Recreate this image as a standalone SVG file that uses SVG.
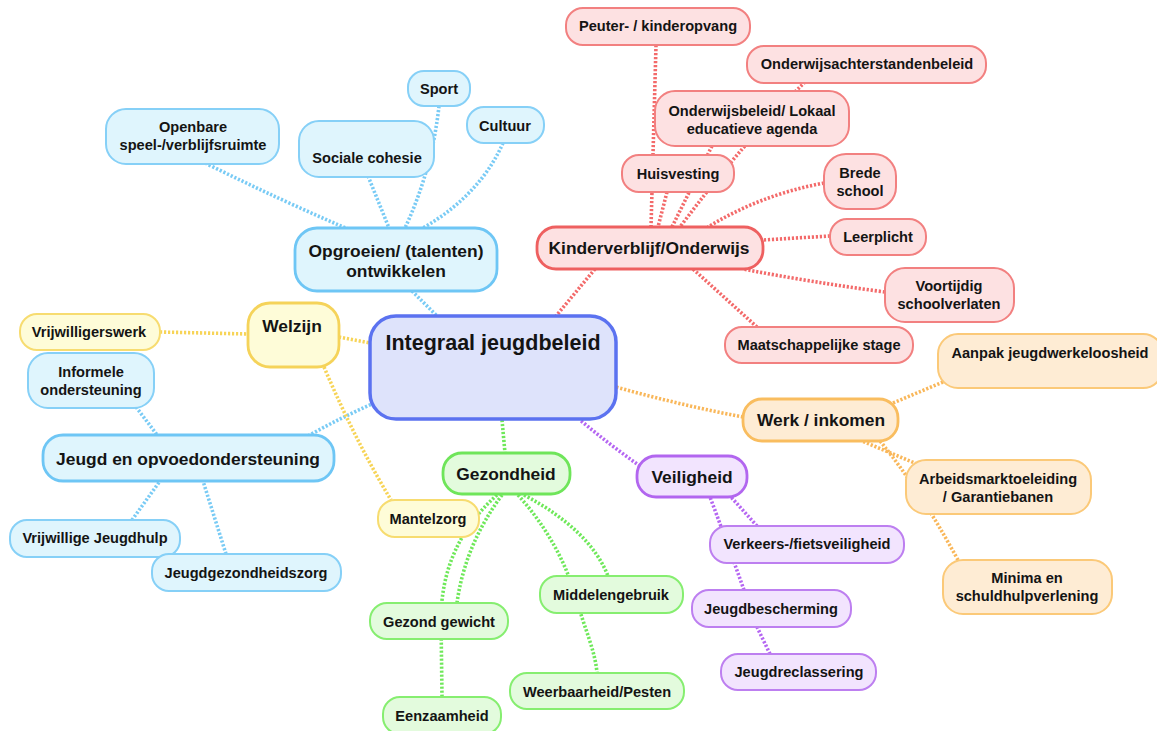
<svg xmlns="http://www.w3.org/2000/svg" width="1157" height="731" viewBox="0 0 1157 731">
<style>
text{font-family:"Liberation Sans",Arial,sans-serif;font-weight:bold;fill:#141414;text-anchor:middle}
.s{font-size:14.6px}
.m{font-size:17.4px}
.c{font-size:21.5px}
rect{stroke-width:2}
.lvl1{stroke-width:2.8}
.blue rect{fill:#dff5fd;stroke:#86d0f7}
.blue rect.lvl1{stroke:#6ec6f5}
.red rect{fill:#fde1e2;stroke:#f28080}
.red rect.lvl1{stroke:#ee6060}
.yellow rect{fill:#fefcd8;stroke:#f7dc70}
.yellow rect.lvl1{stroke:#f5d35a}
.orange rect{fill:#feecd4;stroke:#fbc978}
.orange rect.lvl1{stroke:#f9bd5f}
.purple rect{fill:#f2e4fe;stroke:#bd7ff0}
.purple rect.lvl1{stroke:#b266ef}
.green rect{fill:#e3fbdd;stroke:#86ee70}
.green rect.lvl1{stroke:#6fe55a}
#connectors path{fill:none;stroke-width:3.6;stroke-dasharray:2.2 1.8}
.cb{stroke:#79cbf5}.cr{stroke:#f36a6a}.cy{stroke:#f7d457}.co{stroke:#f9b75a}.cp{stroke:#b566f2}.cg{stroke:#6fe85a}
</style>
<rect width="1157" height="731" fill="#ffffff"/>
<g id="connectors">
<path class="cb" d="M412,291 L438,317"/>
<path class="cb" d="M205,163 Q280,200 348,229"/>
<path class="cb" d="M368,176 L389,228"/>
<path class="cb" d="M439,106 Q432,170 405,228"/>
<path class="cb" d="M503,143 Q480,195 423,228"/>
<path class="cb" d="M308,436 Q340,418 372,404"/>
<path class="cb" d="M136,407 L158,436"/>
<path class="cb" d="M132,520 L160,481"/>
<path class="cb" d="M226,554 L203,481"/>
<path class="cy" d="M339,337 L370,343"/>
<path class="cy" d="M160,332 L248,334"/>
<path class="cy" d="M324,367 Q355,440 391,500"/>
<path class="cr" d="M595,269 L556,316"/>
<path class="cr" d="M656,45 L651,227"/>
<path class="cr" d="M667,192 L658,227"/>
<path class="cr" d="M712,146 L672,227"/>
<path class="cr" d="M805,82 Q745,140 680,227"/>
<path class="cr" d="M824,183 Q760,195 708,227"/>
<path class="cr" d="M830,236 L763,240"/>
<path class="cr" d="M885,292 Q810,282 743,269"/>
<path class="cr" d="M757,327 L693,269"/>
<path class="co" d="M743,417 Q680,405 616,387"/>
<path class="co" d="M943,382 L893,403"/>
<path class="co" d="M917,464 L862,441"/>
<path class="co" d="M958,560 Q920,490 880,441"/>
<path class="cp" d="M640,466 Q610,445 580,420"/>
<path class="cp" d="M757,526 L731,497"/>
<path class="cp" d="M744,590 Q728,545 710,497"/>
<path class="cp" d="M770,654 L757,627"/>
<path class="cg" d="M502,420 L505,453"/>
<path class="cg" d="M497,495 Q441,545 441,620 L442,697"/>
<path class="cg" d="M502,495 Q465,545 457,603"/>
<path class="cg" d="M524,495 Q590,530 608,576"/>
<path class="cg" d="M518,495 C545,525 565,560 575,595 S595,650 597,673"/>
</g>

<g id="n-integraal"><rect x="370" y="316" width="246" height="103" rx="26" style="fill:#dee3fb;stroke:#5b72f0;stroke-width:3.5"/><text class="c" x="493" y="350">Integraal jeugdbeleid</text></g>

<g class="blue">
<g id="n-opgroeien"><rect class="lvl1" x="295" y="228" width="202" height="63" rx="22"/><text class="m" x="396" y="257">Opgroeien/ (talenten)</text><text class="m" x="396" y="277">ontwikkelen</text></g>
<g id="n-openbare"><rect x="106" y="109" width="173" height="55" rx="20"/><text class="s" x="193" y="132">Openbare</text><text class="s" x="193" y="150">speel-/verblijfsruimte</text></g>
<g id="n-sociale"><rect x="299" y="121" width="135" height="56" rx="20"/><text class="s" x="367" y="163">Sociale cohesie</text></g>
<g id="n-sport"><rect x="408" y="71" width="62" height="35" rx="16"/><text class="s" x="439" y="94">Sport</text></g>
<g id="n-cultuur"><rect x="467" y="107" width="77" height="36" rx="17"/><text class="s" x="505" y="130.5">Cultuur</text></g>
<g id="n-informele"><rect x="28" y="353" width="126" height="55" rx="20"/><text class="s" x="91" y="377">Informele</text><text class="s" x="91" y="394.5">ondersteuning</text></g>
<g id="n-jeugd"><rect class="lvl1" x="43" y="435" width="291" height="46" rx="20"/><text class="m" x="188" y="464.5">Jeugd en opvoedondersteuning</text></g>
<g id="n-vrijwillige"><rect x="10" y="520" width="170" height="37" rx="17"/><text class="s" x="95" y="543">Vrijwillige Jeugdhulp</text></g>
<g id="n-jgz"><rect x="152" y="554" width="189" height="37" rx="17"/><text class="s" x="246" y="578">Jeugdgezondheidszorg</text></g>
</g>

<g class="yellow">
<g id="n-welzijn"><rect class="lvl1" x="248" y="303" width="91" height="64" rx="22"/><text class="m" x="292" y="331.5">Welzijn</text></g>
<g id="n-vrijwilligerswerk"><rect x="20" y="314" width="140" height="36" rx="17"/><text class="s" x="89" y="337">Vrijwilligerswerk</text></g>
<g id="n-mantelzorg"><rect x="378" y="500" width="101" height="37" rx="17"/><text class="s" x="428" y="524">Mantelzorg</text></g>
</g>

<g class="red">
<g id="n-kinderverblijf"><rect class="lvl1" x="537" y="227" width="226" height="42" rx="19"/><text class="m" x="649" y="254">Kinderverblijf/Onderwijs</text></g>
<g id="n-peuter"><rect x="566" y="8" width="184" height="37" rx="17"/><text class="s" x="658" y="31">Peuter- / kinderopvang</text></g>
<g id="n-achterstanden"><rect x="747" y="46" width="239" height="37" rx="17"/><text class="s" x="867" y="69">Onderwijsachterstandenbeleid</text></g>
<g id="n-onderwijsbeleid"><rect x="655" y="91" width="194" height="55" rx="20"/><text class="s" x="752" y="115.5">Onderwijsbeleid/ Lokaal</text><text class="s" x="752" y="133.5">educatieve agenda</text></g>
<g id="n-huisvesting"><rect x="622" y="155" width="112" height="37" rx="17"/><text class="s" x="678" y="179">Huisvesting</text></g>
<g id="n-brede"><rect x="824" y="154" width="72" height="55" rx="22"/><text class="s" x="860" y="178">Brede</text><text class="s" x="860" y="196">school</text></g>
<g id="n-leerplicht"><rect x="830" y="219" width="96" height="36" rx="17"/><text class="s" x="878" y="242">Leerplicht</text></g>
<g id="n-voortijdig"><rect x="885" y="268" width="129" height="54" rx="20"/><text class="s" x="949" y="291">Voortijdig</text><text class="s" x="949" y="309">schoolverlaten</text></g>
<g id="n-stage"><rect x="725" y="327" width="188" height="36" rx="17"/><text class="s" x="819" y="350">Maatschappelijke stage</text></g>
</g>

<g class="orange">
<g id="n-werk"><rect class="lvl1" x="743" y="399" width="155" height="42" rx="19"/><text class="m" x="821" y="426">Werk / inkomen</text></g>
<g id="n-aanpak"><rect x="938" y="334" width="225" height="54" rx="20"/><text class="s" x="1050" y="358">Aanpak jeugdwerkeloosheid</text></g>
<g id="n-arbeid"><rect x="906" y="460" width="185" height="54" rx="20"/><text class="s" x="998" y="484">Arbeidsmarktoeleiding</text><text class="s" x="998" y="502">/ Garantiebanen</text></g>
<g id="n-minima"><rect x="943" y="560" width="169" height="54" rx="20"/><text class="s" x="1027" y="583">Minima en</text><text class="s" x="1027" y="601">schuldhulpverlening</text></g>
</g>

<g class="purple">
<g id="n-veiligheid"><rect class="lvl1" x="637" y="456" width="110" height="41" rx="19"/><text class="m" x="692" y="483">Veiligheid</text></g>
<g id="n-verkeers"><rect x="710" y="526" width="194" height="37" rx="17"/><text class="s" x="807" y="549">Verkeers-/fietsveiligheid</text></g>
<g id="n-jeugdbescherming"><rect x="692" y="590" width="159" height="37" rx="17"/><text class="s" x="771" y="614">Jeugdbescherming</text></g>
<g id="n-jeugdreclassering"><rect x="721" y="654" width="155" height="36" rx="17"/><text class="s" x="799" y="677">Jeugdreclassering</text></g>
</g>

<g class="green">
<g id="n-gezondheid"><rect class="lvl1" x="443" y="453" width="127" height="41" rx="19"/><text class="m" x="506" y="480">Gezondheid</text></g>
<g id="n-middelen"><rect x="540" y="576" width="143" height="37" rx="17"/><text class="s" x="611" y="599.5">Middelengebruik</text></g>
<g id="n-gewicht"><rect x="370" y="603" width="138" height="36" rx="17"/><text class="s" x="439" y="627">Gezond gewicht</text></g>
<g id="n-weerbaarheid"><rect x="510" y="673" width="174" height="36" rx="17"/><text class="s" x="597" y="697">Weerbaarheid/Pesten</text></g>
<g id="n-eenzaamheid"><rect x="383" y="697" width="118" height="37" rx="17"/><text class="s" x="442" y="721">Eenzaamheid</text></g>
</g>
</svg>
